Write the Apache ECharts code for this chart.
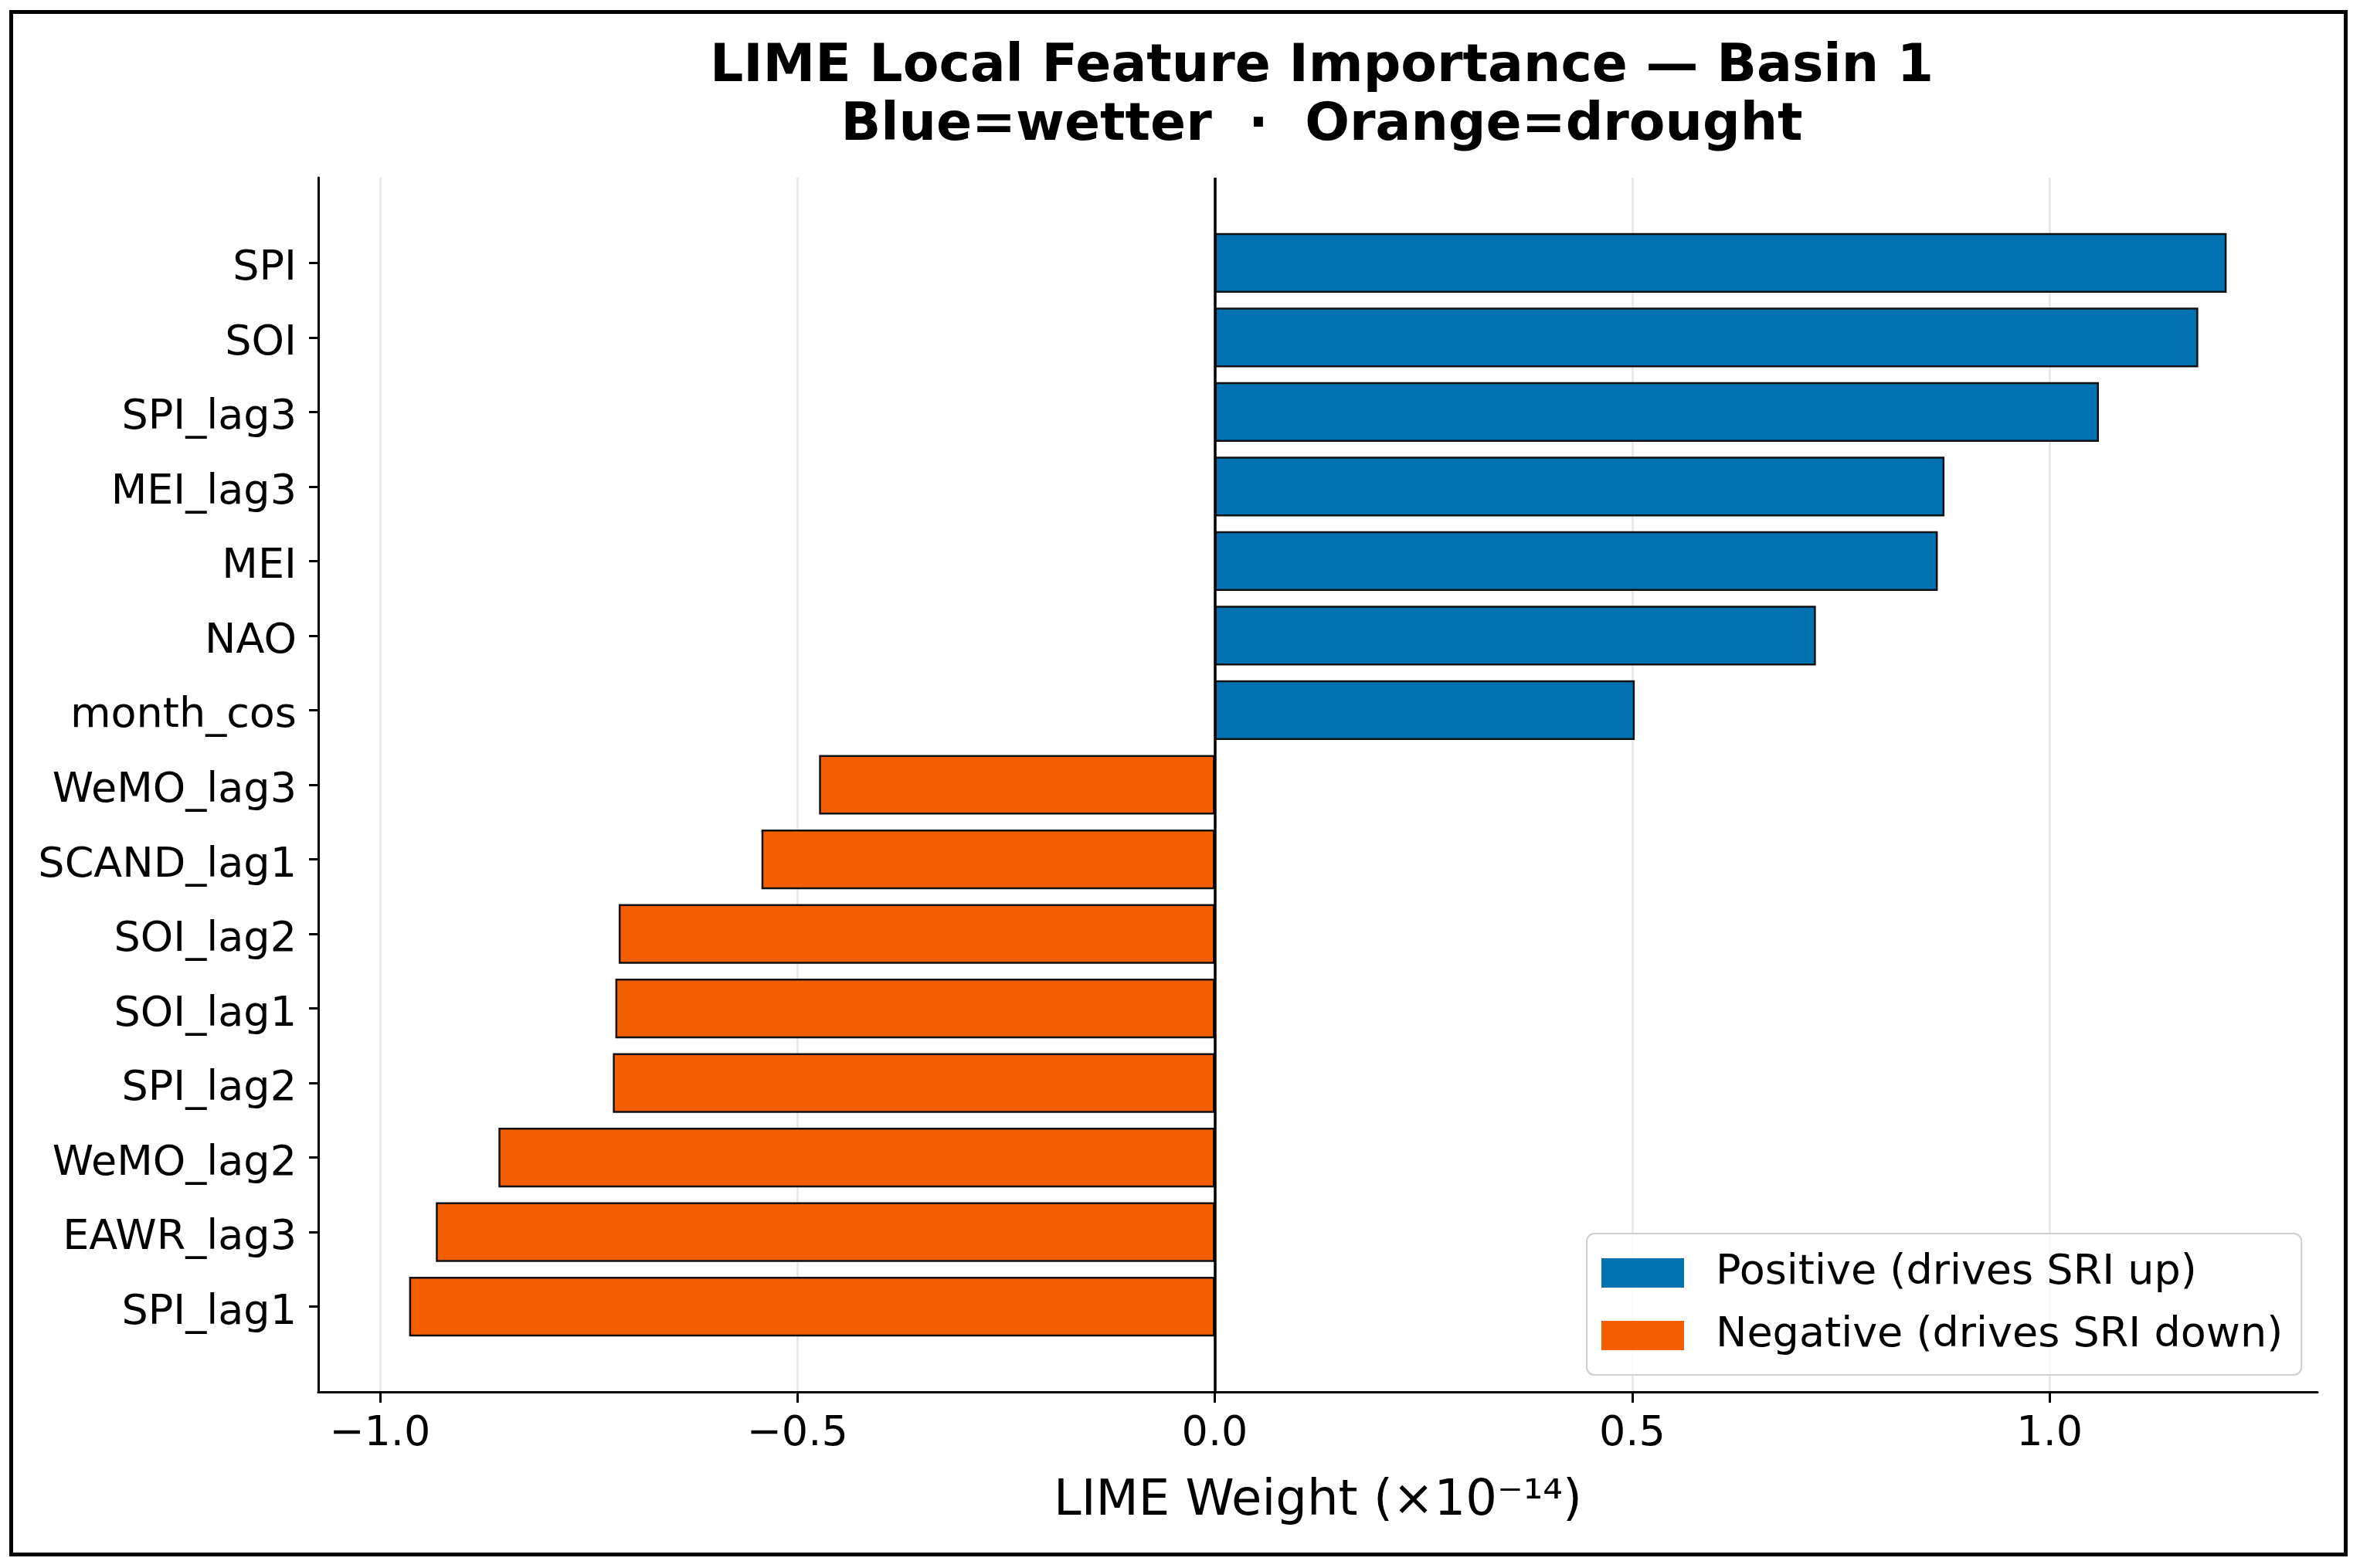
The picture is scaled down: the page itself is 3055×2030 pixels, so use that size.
<!DOCTYPE html>
<html>
<head>
<meta charset="utf-8">
<script src="https://cdn.jsdelivr.net/npm/echarts@6/dist/echarts.min.js"></script>
<style>
html, body { margin: 0; padding: 0; background: #ffffff; overflow: hidden; }
#chart { position: absolute; left: 0; top: 0; width: 3055px; height: 2030px; }
#frame { position: absolute; left: 12px; top: 13px; width: 3027px; height: 2002px; border: 5px solid #000; box-sizing: border-box; pointer-events: none; }
</style>
</head>
<body>
<div id="chart"></div>
<div id="frame"></div>
<script>
// ---- data ----
const categories = ['SPI', 'SOI', 'SPI_lag3', 'MEI_lag3', 'MEI', 'NAO', 'month_cos',
  'WeMO_lag3', 'SCAND_lag1', 'SOI_lag2', 'SOI_lag1', 'SPI_lag2', 'WeMO_lag2', 'EAWR_lag3', 'SPI_lag1'];
const weights = [1.212, 1.178, 1.059, 0.874, 0.866, 0.720, 0.503,
  -0.474, -0.543, -0.714, -0.718, -0.721, -0.858, -0.933, -0.965];
const xTicks = [-1.0, -0.5, 0.0, 0.5, 1.0];
const titleText = 'LIME Local Feature Importance \u2014 Basin 1\nBlue=wetter  \u00b7  Orange=drought';
const xName = 'LIME Weight (\u00d710\u207b\u00b9\u2074)';
const posName = 'Positive (drives SRI up)';
const negName = 'Negative (drives SRI down)';

// ---- derived ----
const posVals = weights.map(v => (v > 0 ? v : '-'));
const negVals = weights.map(v => (v < 0 ? v : '-'));
const vmin = Math.min(0, ...weights), vmax = Math.max(0, ...weights);
const pad = 0.05 * (vmax - vmin);
const xMin = vmin - pad, xMax = vmax + pad;

const FONT = 'DejaVu Sans';
const BLUE = '#0072B2';
const ORANGE = '#F25E00';
const fmt = v => (Math.abs(v) < 1e-9 ? '0.0' : v.toFixed(1).replace('-', '\u2212'));

const chart = echarts.init(document.getElementById('chart'), null, { renderer: 'canvas' });
chart.setOption({
  backgroundColor: '#ffffff',
  animation: false,
  title: {
    text: titleText,
    left: 1706,
    textAlign: 'center',
    top: 44,
    textStyle: { fontFamily: FONT, fontSize: 68, fontWeight: 'bold', color: '#000', lineHeight: 76 }
  },
  legend: {
    orient: 'vertical',
    left: 2054,
    top: 1597,
    padding: [24, 24, 24, 19],
    itemWidth: 107,
    itemHeight: 38,
    itemGap: 27,
    icon: 'rect',
    backgroundColor: 'rgba(255,255,255,0.85)',
    borderColor: '#cfcfcf',
    borderWidth: 2,
    borderRadius: 10,
    itemStyle: { borderWidth: 0 },
    textStyle: { fontFamily: FONT, fontSize: 54, color: '#000', padding: [0, 0, 0, 36] },
    data: [posName, negName]
  },
  grid: [
    { left: 412, right: 55, top: 292, bottom: 290 },
    { left: 412, right: 55, top: 230, bottom: 228 }
  ],
  xAxis: [
    {
      gridIndex: 0, type: 'value', min: xMin, max: xMax,
      axisLine: { show: false }, axisTick: { show: false }, axisLabel: { show: false }, splitLine: { show: false }
    },
    {
      gridIndex: 1, type: 'value', min: xMin, max: xMax,
      name: xName, nameLocation: 'middle', nameGap: 110,
      nameTextStyle: { fontFamily: FONT, fontSize: 64, color: '#000' },
      axisLine: { show: true, onZero: false, lineStyle: { color: '#000', width: 3 } },
      axisTick: { show: true, customValues: xTicks, length: 14, lineStyle: { color: '#000', width: 3 } },
      axisLabel: { show: true, customValues: xTicks, margin: 28, formatter: fmt,
        fontFamily: FONT, fontSize: 54, color: '#000' },
      splitLine: { show: true, lineStyle: { color: '#e6e6e6', width: 2.5 } }
    }
  ],
  yAxis: [
    {
      gridIndex: 0, type: 'category', inverse: true, data: categories,
      axisLine: { show: false, onZero: false },
      axisTick: { show: true, alignWithLabel: true, length: 12, lineStyle: { color: '#000', width: 3 } },
      axisLabel: {
        fontFamily: FONT, fontSize: 54, color: '#000', margin: 28,
        formatter: v => '{l|' + v + '}',
        rich: { l: { fontFamily: FONT, fontSize: 54, color: '#000', padding: [16, 0, 0, 0] } }
      },
      splitLine: { show: false }
    },
    {
      gridIndex: 1, type: 'value', min: 0, max: 1,
      axisLine: { show: true, onZero: false, lineStyle: { color: '#000', width: 3 } },
      axisTick: { show: false }, axisLabel: { show: false }, splitLine: { show: false }
    }
  ],
  series: [
    {
      name: posName, type: 'bar', xAxisIndex: 0, yAxisIndex: 0,
      data: posVals, barWidth: '80%', barGap: '-100%',
      itemStyle: { color: BLUE, borderColor: '#111', borderWidth: 2.5 },
      z: 3
    },
    {
      name: negName, type: 'bar', xAxisIndex: 0, yAxisIndex: 0,
      data: negVals, barWidth: '80%', barGap: '-100%',
      itemStyle: { color: ORANGE, borderColor: '#111', borderWidth: 2.5 },
      z: 3
    },
    {
      name: 'zero', type: 'line', xAxisIndex: 1, yAxisIndex: 1, data: [],
      z: 6, silent: true,
      markLine: {
        silent: true, symbol: ['none', 'none'], label: { show: false },
        lineStyle: { color: '#000', width: 3.5, type: 'solid' },
        data: [{ xAxis: 0 }]
      }
    }
  ]
});
</script>
</body>
</html>
